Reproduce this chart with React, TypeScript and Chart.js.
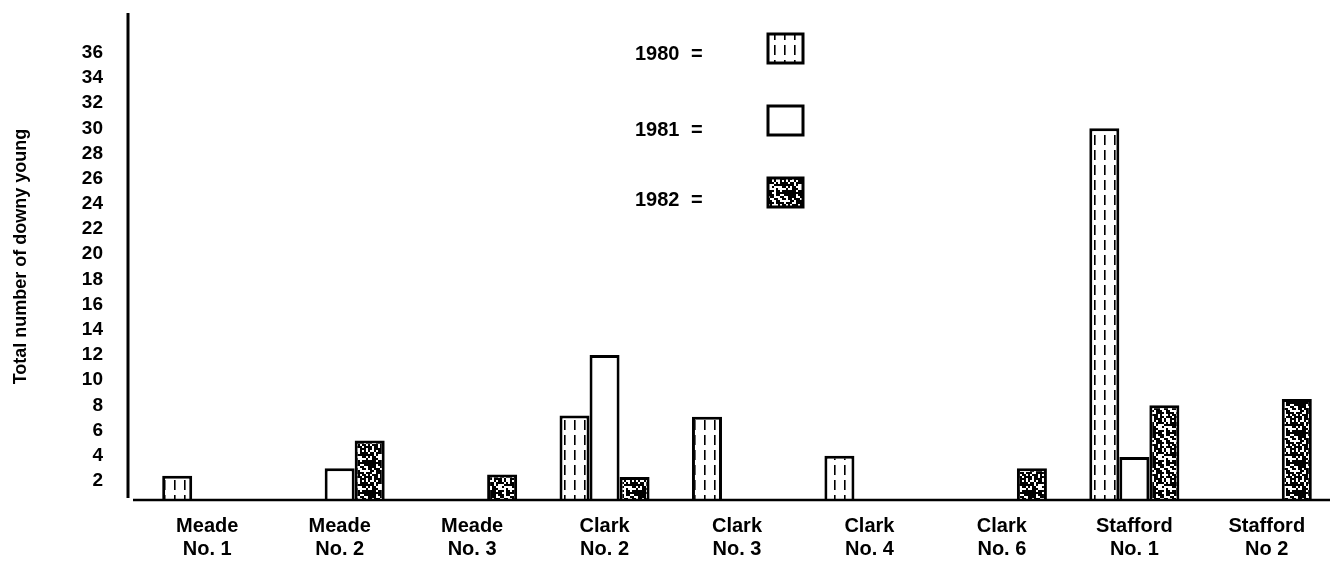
import React, { useEffect, useRef } from 'react';
import { Chart, registerables } from 'chart.js';

Chart.register(...registerables);

const categories: string[][] = [
  ['Meade', 'No. 1'],
  ['Meade', 'No. 2'],
  ['Meade', 'No. 3'],
  ['Clark', 'No. 2'],
  ['Clark', 'No. 3'],
  ['Clark', 'No. 4'],
  ['Clark', 'No. 6'],
  ['Stafford', 'No. 1'],
  ['Stafford', 'No 2'],
];
const seriesLabels = ['1980', '1981', '1982'];
const values1980 = [2.4, null, null, 7.2, 7.1, 4.0, null, 30.0, null];
const values1981 = [null, 3.0, null, 12.0, null, null, null, 3.9, null];
const values1982 = [null, 5.2, 2.5, 2.3, null, null, 3.0, 8.0, 8.5];
const yTicks = [2, 4, 6, 8, 10, 12, 14, 16, 18, 20, 22, 24, 26, 28, 30, 32, 34, 36];
const yTitle = 'Total number of downy young';

const FONT = "'Liberation Sans', Arial, Helvetica, sans-serif";

function makeDashPattern(): CanvasPattern | string {
  const c = document.createElement('canvas');
  c.width = 10;
  c.height = 15;
  const g = c.getContext('2d');
  if (!g) return '#fff';
  g.fillStyle = '#ffffff';
  g.fillRect(0, 0, 10, 15);
  g.fillStyle = '#000000';
  g.fillRect(4, 0, 1.6, 10);
  return g.createPattern(c, 'repeat') || '#fff';
}

function noise(x: number, y: number): number {
  const s = Math.sin(x * 12.9898 + y * 78.233) * 43758.5453;
  return s - Math.floor(s);
}

function makeSpecklePattern(): CanvasPattern | string {
  const size = 30;
  const cell = 2;
  const c = document.createElement('canvas');
  c.width = size;
  c.height = size;
  const g = c.getContext('2d');
  if (!g) return '#000';
  g.fillStyle = '#000000';
  g.fillRect(0, 0, size, size);
  g.fillStyle = '#ffffff';
  for (let i = 0; i < size / cell; i++) {
    for (let j = 0; j < size / cell; j++) {
      if (noise(i + 3, j + 7) > 0.6) g.fillRect(i * cell, j * cell, cell, cell);
    }
  }
  return g.createPattern(c, 'repeat') || '#000';
}

const axisLinesPlugin = {
  id: 'axisLines',
  afterDatasetsDraw(chart: any) {
    const { ctx, chartArea } = chart;
    ctx.save();
    ctx.strokeStyle = '#000';
    ctx.lineWidth = 3;
    ctx.beginPath();
    ctx.moveTo(chartArea.left - 13, chartArea.top);
    ctx.lineTo(chartArea.left - 13, chartArea.bottom - 2);
    ctx.stroke();
    ctx.lineWidth = 2.5;
    ctx.beginPath();
    ctx.moveTo(chartArea.left - 8, chartArea.bottom);
    ctx.lineTo(chartArea.right - 3, chartArea.bottom);
    ctx.stroke();
    ctx.restore();
  },
};

const legendRows = [
  { textY: 54, boxY: 34 },
  { textY: 130, boxY: 106 },
  { textY: 200, boxY: 178 },
];

const legendPlugin = {
  id: 'customLegend',
  afterDraw(chart: any) {
    const { ctx } = chart;
    ctx.save();
    ctx.font = `bold 20px ${FONT}`;
    ctx.textBaseline = 'middle';
    ctx.textAlign = 'left';
    chart.data.datasets.forEach((ds: any, i: number) => {
      const row = legendRows[i];
      if (!row) return;
      ctx.fillStyle = '#000';
      ctx.fillText(ds.label, 635, row.textY);
      ctx.fillText('=', 691, row.textY);
      ctx.fillStyle = ds.backgroundColor;
      ctx.fillRect(768, row.boxY, 35, 29);
      ctx.strokeStyle = '#000';
      ctx.lineWidth = 3;
      ctx.strokeRect(768, row.boxY, 35, 29);
    });
    ctx.restore();
  },
};

export default function App() {
  const canvasRef = useRef<HTMLCanvasElement | null>(null);

  useEffect(() => {
    document.body.style.margin = '0';
    const canvas = canvasRef.current;
    if (!canvas) return;
    Chart.defaults.font.family = FONT;
    Chart.defaults.color = '#000';
    const dashPattern = makeDashPattern();
    const specklePattern = makeSpecklePattern();
    const fills = [dashPattern, '#ffffff', specklePattern];
    const series = [values1980, values1981, values1982];

    const chart = new Chart(canvas, {
      type: 'bar',
      data: {
        labels: categories,
        datasets: series.map((vals, i) => ({
          label: seriesLabels[i],
          data: vals,
          backgroundColor: fills[i] as any,
          borderColor: '#000',
          borderWidth: 3,
          borderSkipped: 'start',
          categoryPercentage: 0.68,
          barPercentage: 1.0,
        })),
      },
      options: {
        animation: false,
        responsive: true,
        maintainAspectRatio: false,
        layout: { padding: { top: 13, right: 3, left: 0, bottom: 0 } },
        plugins: {
          legend: { display: false },
          tooltip: { enabled: false },
        },
        scales: {
          x: {
            type: 'category',
            grid: { display: false, drawTicks: false },
            border: { display: false },
            ticks: {
              color: '#000',
              font: { family: FONT, size: 20, weight: 'bold', lineHeight: 1.15 },
              padding: 15,
              maxRotation: 0,
              autoSkip: false,
            },
            afterFit(scale: any) {
              scale.height = 63;
            },
          },
          y: {
            type: 'linear',
            min: 0.48,
            max: 39.16,
            grid: { display: false, drawTicks: true, tickLength: 37 },
            border: { display: false },
            afterBuildTicks(scale: any) {
              scale.ticks = yTicks.map((v) => ({ value: v }));
            },
            ticks: {
              color: '#000',
              font: { family: FONT, size: 19, weight: 'bold' },
              padding: 1,
              autoSkip: false,
            },
            title: {
              display: true,
              text: yTitle,
              color: '#000',
              font: { family: FONT, size: 18, weight: 'bold' },
              padding: { top: 10, bottom: 0 },
            },
            afterFit(scale: any) {
              scale.width = 141;
              scale.paddingTop = 0;
              scale.paddingBottom = 0;
            },
          },
        },
      },
      plugins: [axisLinesPlugin, legendPlugin],
    });
    return () => chart.destroy();
  }, []);

  return (
    <div style={{ position: 'relative', width: '1336px', height: '563px' }}>
      <canvas ref={canvasRef} />
    </div>
  );
}
